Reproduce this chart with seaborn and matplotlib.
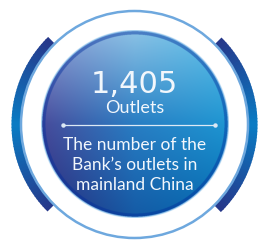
import numpy as np
import matplotlib
matplotlib.use("Agg")
import matplotlib.pyplot as plt
from matplotlib.patches import Circle, Wedge
import seaborn as sns

# Chart content
valeur = ["1,405"]
libelle = ["Outlets"]
description = ["The number of the", "Bank\u2019s outlets in", "mainland China"]

sns.set_theme(style="white")
plt.rcParams["font.family"] = ["Lato", "DejaVu Sans"]

# Geometry (pixels)
W, H = 261, 244
cx, cy = 134.5, 124.5
r_disc = 94.0
r_ring = 113.5
r_arc = 123.0

# Colour grid for the disc gradient (top -> bottom, left -> right)
grille = np.array([
    [[145, 160, 215], [140, 195, 230], [95, 195, 235]],
    [[72, 75, 155], [40, 125, 195], [30, 150, 210]],
    [[40, 40, 120], [20, 90, 165], [0, 105, 175]],
]) / 255.0


def degrade(u, v):
    su = np.clip(u * 2, 0, 2)
    sv = np.clip(v * 2, 0, 2)
    i = np.minimum(su.astype(int), 1)
    j = np.minimum(sv.astype(int), 1)
    fu = (su - i)[..., None]
    fv = (sv - j)[..., None]
    c00 = grille[j, i]
    c01 = grille[j, i + 1]
    c10 = grille[j + 1, i]
    c11 = grille[j + 1, i + 1]
    return (c00 * (1 - fu) + c01 * fu) * (1 - fv) + (c10 * (1 - fu) + c11 * fu) * fv


fig = plt.figure(figsize=(W / 100, H / 100), dpi=100)
ax = fig.add_axes([0, 0, 1, 1])

# Outer arcs, dark at the ends and bright in the middle
n_seg = 60
couleurs_arc = sns.blend_palette(["#26388a", "#0a7cc4", "#26388a"], n_seg)
for debut in [135, -45]:
    pas = 90 / n_seg
    for k in range(n_seg):
        a0 = debut + k * pas
        ax.add_patch(Wedge((cx, cy), r_arc, a0, a0 + pas + 0.4, width=r_arc - r_ring,
                           facecolor=couleurs_arc[k], edgecolor="none", zorder=1))

# Thin light ring
ax.add_patch(Circle((cx, cy), r_ring, fill=False, edgecolor="#6ea8de", linewidth=1.8, zorder=2))

# Disc with gradient
n = 760
coords = (np.arange(n) + 0.5) / n
u, v = np.meshgrid(coords, coords)
xs = cx - r_disc + u * 2 * r_disc
ys = cy - r_disc + v * 2 * r_disc
d = np.hypot(xs - cx, ys - cy)
rgb = degrade(u, v)
bande = (d > r_disc - 4.5) & (d <= r_disc - 1.3)
rgb[bande] = rgb[bande] * 0.55 + np.array([0, 20, 70]) / 255.0
rgb[d > r_disc - 1.3] = np.array([134, 189, 232]) / 255.0
alpha = np.clip(r_disc + 0.3 - d, 0, 1)
img = np.dstack([np.clip(rgb, 0, 1), alpha])
ax.imshow(img, extent=(cx - r_disc, cx + r_disc, cy + r_disc, cy - r_disc),
          interpolation="antialiased", zorder=3)

# Texts
blanc = "#f2f7fc"
ax.text(cx, 93, valeur[0], ha="center", va="baseline", fontsize=22,
        color=blanc, family=["DejaVu Sans"], fontweight="normal", zorder=4)
ax.text(cx, 113, libelle[0], ha="center", va="baseline", fontsize=13,
        color=blanc, fontweight="normal", zorder=4)
ax.plot([63, 215], [125, 125], color="#dce9f5", linewidth=0.9, zorder=4)
ax.plot([63, 215], [125, 125], "o", color="#dce9f5", markersize=2.2, zorder=4)
for ligne, base in zip(description, [150, 170, 189.5]):
    ax.text(cx, base, ligne, ha="center", va="baseline", fontsize=12.5,
            color=blanc, fontweight="normal", zorder=4)

ax.set_xlim(0, W)
ax.set_ylim(H, 0)
ax.axis("off")

fig.savefig("out.png", dpi=100)
plt.close()
